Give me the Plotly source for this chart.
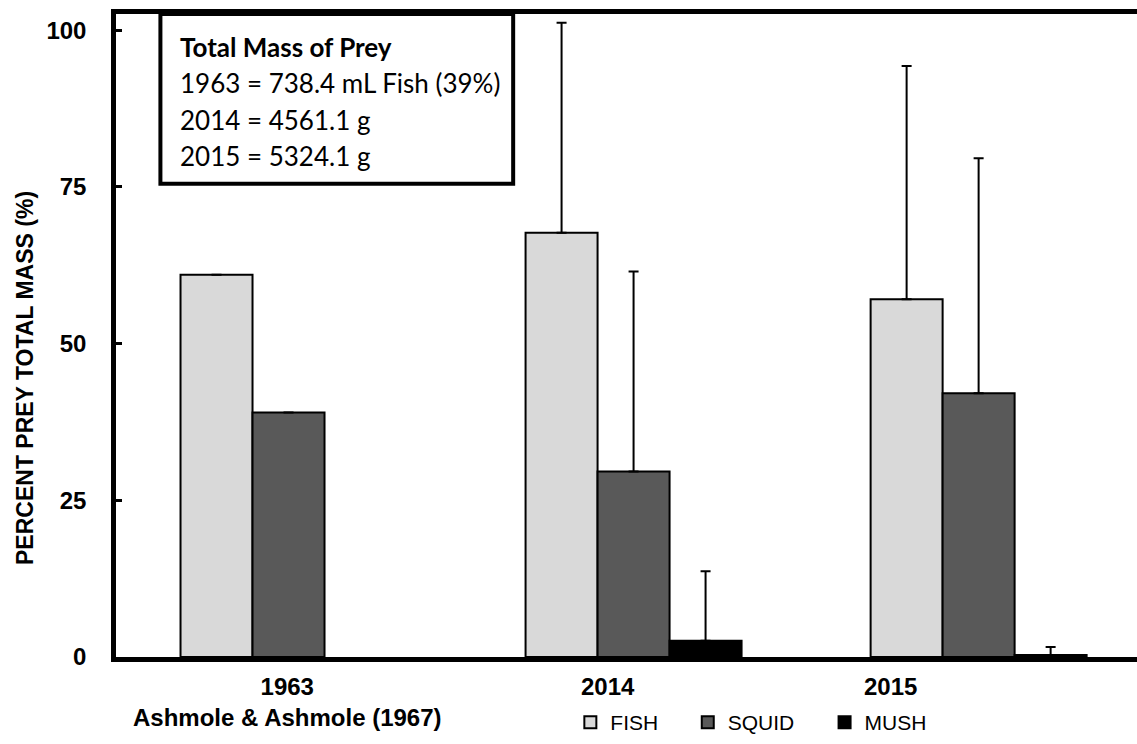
import plotly.graph_objects as go

# Survey years (category axis) and prey-type percentages of total mass
years = ["1963", "2014", "2015"]
fish = [61.0, 67.7, 57.1]
squid = [39.0, 29.6, 42.1]
mush = [None, 2.6, 0.3]

# Upper error (one-sided) for each bar
fish_err = [None, 33.5, 37.2]
squid_err = [None, 31.9, 37.5]
mush_err = [None, 11.1, 1.3]

y_ticks = [0, 25, 50, 75, 100]
y_title = "PERCENT PREY TOTAL MASS (%)"
x_labels = ["1963<br>Ashmole & Ashmole (1967)", "2014", "2015"]
x_label_pos = [0.168, 0.482, 0.759]

box_lines = [
    "<b>Total Mass of Prey</b>",
    "1963 = 738.4 mL Fish (39%)",
    "2014 = 4561.1 g",
    "2015 = 5324.1 g",
]

series = [
    ("FISH", fish, fish_err, "#d9d9d9", "legend"),
    ("SQUID", squid, squid_err, "#595959", "legend2"),
    ("MUSH", mush, mush_err, "#000000", "legend3"),
]

fig = go.Figure()
for name, vals, err, color, lg in series:
    fig.add_trace(go.Bar(
        x=years, y=vals, name=name, legend=lg,
        marker=dict(color=color, line=dict(color="black", width=2)),
        error_y=dict(type="data", symmetric=False, array=err,
                     arrayminus=[0 if e is not None else None for e in err],
                     color="black", thickness=2, width=5),
    ))

AX = "Liberation Sans, Arial, sans-serif"
BOX = "Lato, Carlito, Calibri, sans-serif"

fig.update_layout(
    width=1137, height=744,
    margin=dict(l=116, r=0, t=14, b=87),
    paper_bgcolor="white", plot_bgcolor="white",
    barmode="group", bargap=0.374, bargroupgap=0,
    showlegend=True,
    font=dict(family=AX, color="black"),
    xaxis=dict(
        type="category", range=[-0.5, 2.459],
        showticklabels=False, ticks="", showgrid=False,
        showline=True, linecolor="black", linewidth=4.5, mirror=True,
    ),
    yaxis=dict(
        range=[0, 102.6], tickvals=y_ticks,
        ticks="inside", ticklen=6, tickwidth=3, tickcolor="black",
        showgrid=False, zeroline=False,
        showline=True, linecolor="black", linewidth=4.5,
        tickfont=dict(family=AX, size=24, color="black", weight="bold"),
        ticklabelstandoff=20,
    ),
)

# Axis title, rotated, placed beside the tick labels
fig.add_annotation(x=-0.0891, y=0.434, xref="paper", yref="paper",
                   text="<b>" + y_title + "</b>", textangle=-90, showarrow=False,
                   xanchor="center", yanchor="middle",
                   font=dict(family=AX, size=23, color="black"))

legend_x = [0.445, 0.560, 0.694]
legend_common = dict(orientation="h", yanchor="middle", y=-0.102, xanchor="left",
                     font=dict(family=AX, size=21, color="black"),
                     bgcolor="rgba(0,0,0,0)", borderwidth=0, tracegroupgap=0)
fig.update_layout(
    legend=dict(x=legend_x[0], **legend_common),
    legend2=dict(x=legend_x[1], **legend_common),
    legend3=dict(x=legend_x[2], **legend_common),
)

# Category labels below the axis
fig.add_annotation(x=x_label_pos[0], y=-0.0705, xref="paper", yref="paper",
                   text="<b>" + x_labels[0] + "</b>", showarrow=False,
                   xanchor="center", yanchor="middle",
                   font=dict(family=AX, size=24, color="black"))
for lbl, xp in zip(x_labels[1:], x_label_pos[1:]):
    fig.add_annotation(x=xp, y=-0.0465, xref="paper", yref="paper",
                       text="<b>" + lbl + "</b>", showarrow=False,
                       xanchor="center", yanchor="middle",
                       font=dict(family=AX, size=24, color="black"))

# Inset box with total prey mass per year
fig.add_shape(type="rect", xref="paper", yref="paper",
              x0=0.0435, x1=0.389, y0=0.736, y1=1.0,
              line=dict(color="black", width=4), fillcolor="white", layer="above")
box_y = [47, 83, 120, 156]
for txt, py in zip(box_lines, box_y):
    fig.add_annotation(x=0.0605, y=(657 - py) / 643, xref="paper", yref="paper",
                       text=txt, showarrow=False, xanchor="left", yanchor="middle",
                       font=dict(family=BOX, size=26, color="black"))

fig.write_html("out.html")
